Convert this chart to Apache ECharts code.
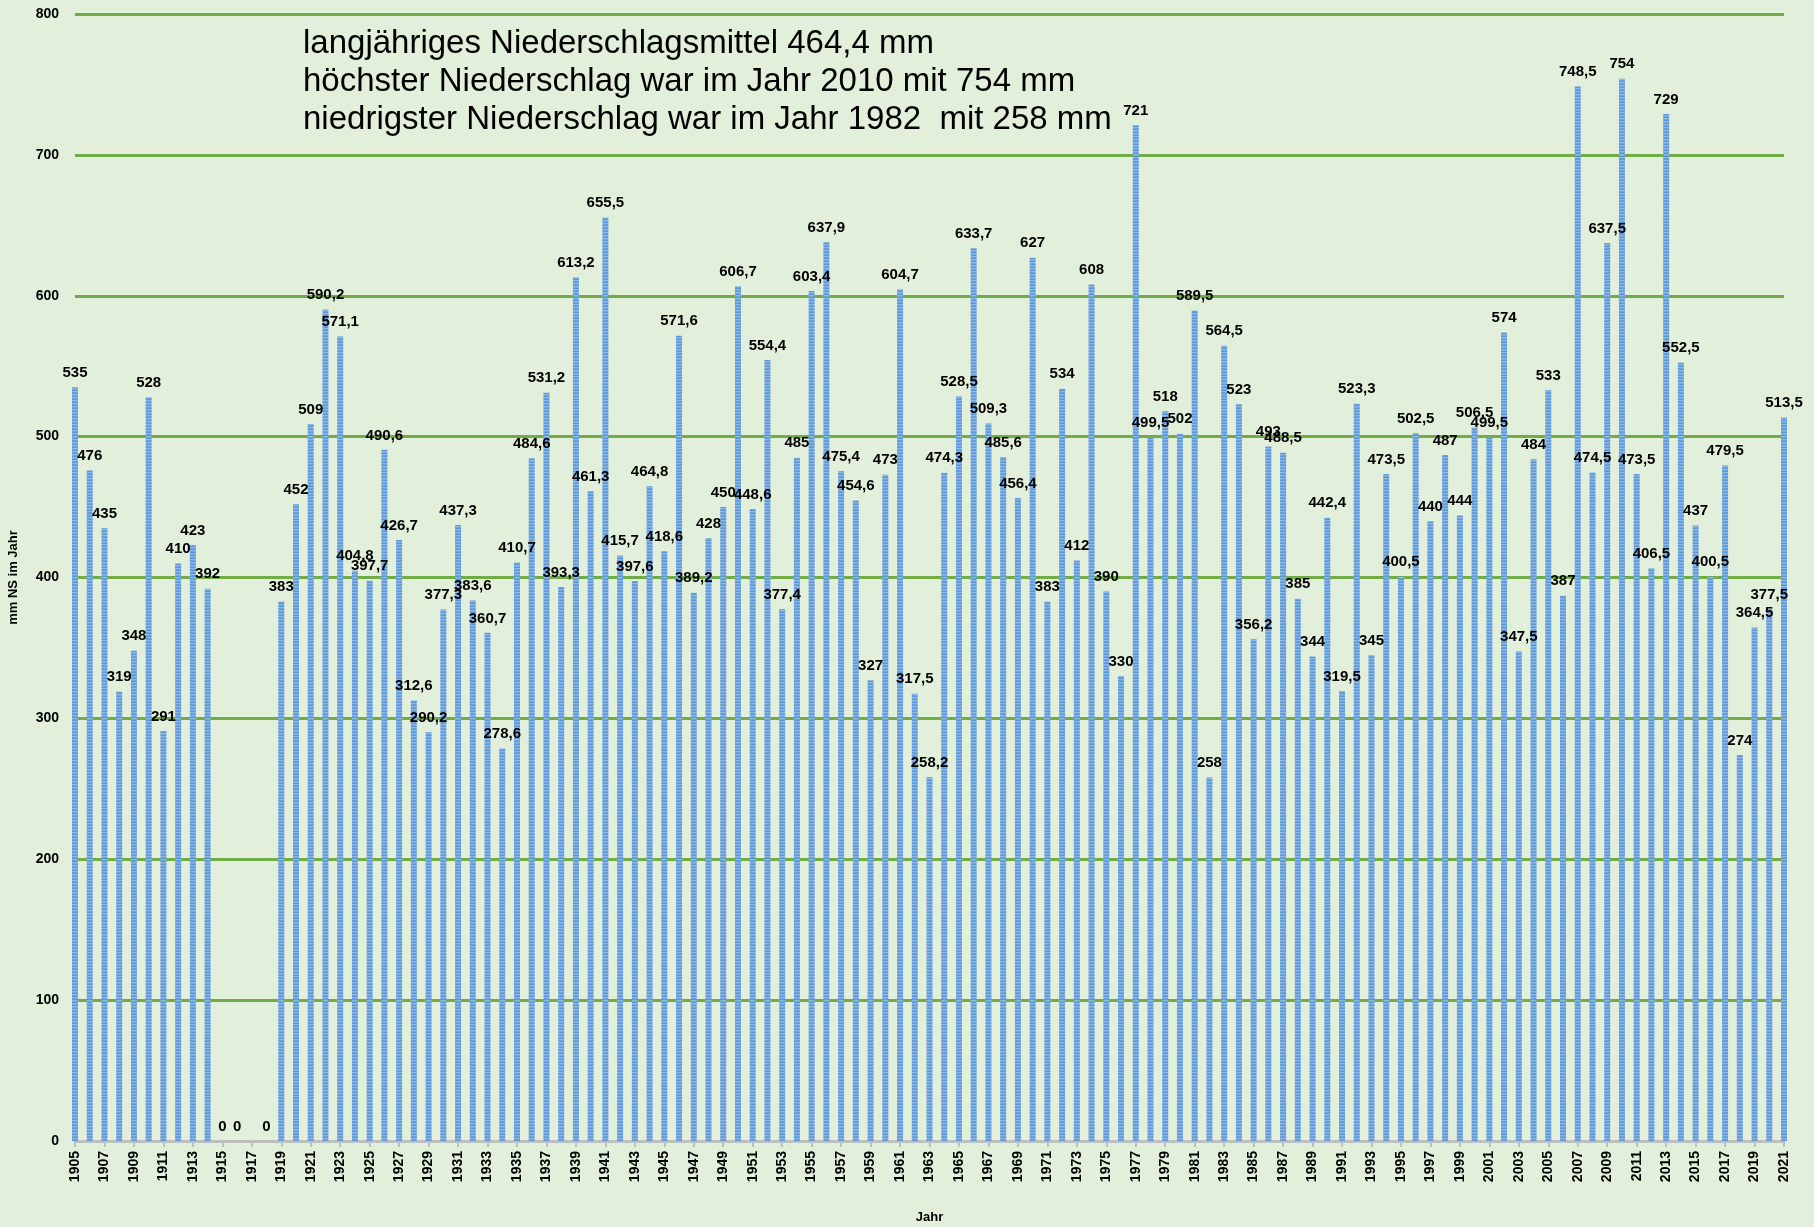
<!DOCTYPE html>
<html>
<head>
<meta charset="utf-8">
<script src="https://cdn.jsdelivr.net/npm/echarts@6/dist/echarts.min.js"></script>
<style>
html,body{margin:0;padding:0;background:#e2efda;}
#chart{width:1814px;height:1227px;}
</style>
</head>
<body>
<div id="chart"></div>
<script>
// Years 1905..2021
const years = [];
for (let y = 1905; y <= 2021; y++) years.push(String(y));

// Annual precipitation (mm); 1917 has no value
const precip = [
  535, 476, 435, 319, 348, 528, 291, 410, 423, 392,          // 1905-1914
  0, 0, null, 0,                                              // 1915-1918
  383, 452, 509, 590.2, 571.1, 404.8, 397.7, 490.6, 426.7, 312.6, // 1919-1928
  290.2, 377.3, 437.3, 383.6, 360.7, 278.6, 410.7, 484.6, 531.2, 393.3, // 1929-1938
  613.2, 461.3, 655.5, 415.7, 397.6, 464.8, 418.6, 571.6, 389.2, 428,   // 1939-1948
  450, 606.7, 448.6, 554.4, 377.4, 485, 603.4, 637.9, 475.4, 454.6,     // 1949-1958
  327, 473, 604.7, 317.5, 258.2, 474.3, 528.5, 633.7, 509.3, 485.6,     // 1959-1968
  456.4, 627, 383, 534, 412, 608, 390, 330, 721, 499.5,                 // 1969-1978
  518, 502, 589.5, 258, 564.5, 523, 356.2, 493, 488.5, 385,             // 1979-1988
  344, 442.4, 319.5, 523.3, 345, 473.5, 400.5, 502.5, 440, 487,         // 1989-1998
  444, 506.5, 499.5, 574, 347.5, 484, 533, 387, 748.5, 474.5,           // 1999-2008
  637.5, 754, 473.5, 406.5, 729, 552.5, 437, 400.5, 479.5, 274,         // 2009-2018
  364.5, 377.5, 513.5                                                   // 2019-2021
];

const yTicks = [0, 100, 200, 300, 400, 500, 600, 700, 800];

const titleLines = [
  'langjähriges Niederschlagsmittel 464,4 mm',
  'höchster Niederschlag war im Jahr 2010 mit 754 mm',
  'niedrigster Niederschlag war im Jahr 1982  mit 258 mm'
];

// striped bar fill pattern
const pat = document.createElement('canvas');
pat.width = 4; pat.height = 3;
const pctx = pat.getContext('2d');
const rows = ['#5b97d9', '#8db7e8', '#6fa5df'];
rows.forEach((c, i) => { pctx.fillStyle = c; pctx.fillRect(0, i, 4, 1); });

const FONT = "'Liberation Sans', Arial, sans-serif";

const chart = echarts.init(document.getElementById('chart'), null, {renderer: 'canvas'});
chart.setOption({
  backgroundColor: '#e2efda',
  animation: false,
  title: {
    text: titleLines.join('\n'),
    left: 303,
    top: 25,
    padding: 0,
    textStyle: {
      fontFamily: FONT,
      fontSize: 33,
      fontWeight: 'normal',
      color: '#000',
      lineHeight: 38
    }
  },
  grid: {left: 75, right: 30, top: 14, bottom: 86, containLabel: false, outerBoundsMode: 'none'},
  xAxis: {
    type: 'category',
    data: years,
    boundaryGap: false,
    name: 'Jahr',
    nameLocation: 'middle',
    nameGap: 70,
    nameTextStyle: {fontFamily: FONT, fontSize: 13, fontWeight: 'bold', color: '#000'},
    axisLine: {show: true, lineStyle: {color: '#bfbfbf', width: 3}},
    axisTick: {show: true, interval: 1, length: 6, lineStyle: {color: '#bfbfbf', width: 2}},
    axisLabel: {
      interval: 1, rotate: 90, margin: 10,
      fontFamily: FONT, fontSize: 14, fontWeight: 'bold', color: '#000'
    },
    splitLine: {show: false}
  },
  yAxis: {
    type: 'value',
    min: yTicks[0],
    max: yTicks[yTicks.length - 1],
    interval: 100,
    name: 'mm NS im Jahr',
    nameLocation: 'middle',
    nameRotate: 90,
    nameGap: 55,
    nameTextStyle: {fontFamily: FONT, fontSize: 13, fontWeight: 'bold', color: '#000'},
    axisLine: {show: false},
    axisTick: {show: false},
    axisLabel: {margin: 16, fontFamily: FONT, fontSize: 14, fontWeight: 'bold', color: '#000'},
    splitLine: {show: true, lineStyle: {color: '#70ad47', width: 3}}
  },
  series: [{
    type: 'bar',
    data: precip.map(v => v === null ? '-' : v),
    barWidth: 6,
    clip: true,
    itemStyle: {color: {image: pat, repeat: 'repeat'}},
    label: {
      show: true,
      position: 'top',
      distance: 7,
      fontFamily: FONT,
      fontSize: 15,
      fontWeight: 'bold',
      color: '#000',
      formatter: p => String(p.value).replace('.', ',')
    }
  }]
});
</script>
</body>
</html>
